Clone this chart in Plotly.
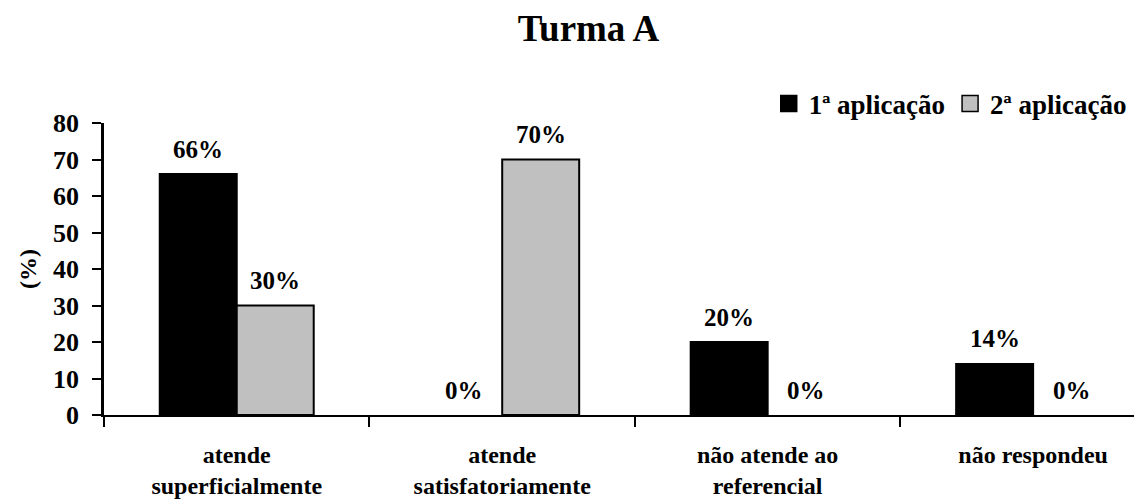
import plotly.graph_objects as go

categories = ["atende<br>superficialmente", "atende<br>satisfatoriamente",
              "não atende ao<br>referencial", "não respondeu"]
series_names = ["1ª aplicação", "2ª aplicação"]
aplicacao_1 = [66, 0, 20, 14]
aplicacao_2 = [30, 70, 0, 0]
y_ticks = [0, 10, 20, 30, 40, 50, 60, 70, 80]

FONT = "Liberation Serif"
colors = ["#000000", "#C0C0C0"]

fig = go.Figure()
for name, vals, col in zip(series_names, [aplicacao_1, aplicacao_2], colors):
    fig.add_trace(go.Bar(
        x=categories, y=vals, name=name, showlegend=False,
        marker=dict(color=col,
                    line=dict(color="#000000",
                              width=[2 if v > 0 else 0 for v in vals])),
    ))
    # legend entry with a larger square swatch
    fig.add_trace(go.Scatter(
        x=[None], y=[None], mode="markers",
        name=f"<span style='font-family:{FONT}, serif'><b>{name}</b></span>",
        marker=dict(symbol="square", size=16, color=col,
                    line=dict(color="#000000", width=1.5)),
    ))

# value labels above each bar
offsets = [-38.5, 38.5]
for vals, dx in zip([aplicacao_1, aplicacao_2], offsets):
    for cat, v in zip(categories, vals):
        fig.add_annotation(
            x=cat, y=v, text=f"<b>{v}%</b>", showarrow=False,
            xshift=dx, yshift=25, yanchor="middle",
            font=dict(family=FONT, size=25, color="#000000"),
        )

fig.update_layout(
    width=1134, height=500,
    margin=dict(l=104, r=0, t=123, b=85, autoexpand=False),
    paper_bgcolor="white", plot_bgcolor="white",
    barmode="group", bargap=0.42, bargroupgap=0,
    font=dict(family=FONT, color="#000000"),
    title=dict(text="<b>Turma A</b>", xref="container", yref="container",
               x=0.519, y=0.944, xanchor="center", yanchor="middle",
               font=dict(family=FONT, size=37, color="#000000")),
    legend=dict(orientation="h", xref="container", yref="container",
                x=0.998, y=0.792, xanchor="right", yanchor="middle",
                font=dict(family=f"{FONT}, serif", size=27, color="#000000"),
                itemsizing="trace", bgcolor="rgba(0,0,0,0)"),
)

fig.update_xaxes(
    type="category", range=[-0.5, 3.38], tickson="boundaries",
    showline=True, linecolor="#000000", linewidth=2,
    ticks="outside", ticklen=10, tickwidth=2, tickcolor="#000000",
    ticklabelstandoff=17,
    tickfont=dict(family=FONT, size=24, color="#000000"),
    showgrid=False, zeroline=False,
)
fig.update_xaxes(ticktext=[f"<b>{c}</b>" for c in categories], tickvals=categories)

fig.update_yaxes(
    range=[0, 80], tickvals=y_ticks,
    ticktext=[f"<b>{t}</b>" for t in y_ticks],
    showline=True, linecolor="#000000", linewidth=2.5,
    ticks="outside", ticklen=9, tickwidth=2, tickcolor="#000000",
    ticklabelstandoff=8,
    tickfont=dict(family=FONT, size=26, color="#000000"),
    title=dict(text="<b>(%)</b>", standoff=10,
               font=dict(family=FONT, size=24, color="#000000")),
    showgrid=False, zeroline=False,
)

fig.write_html("out.html")
